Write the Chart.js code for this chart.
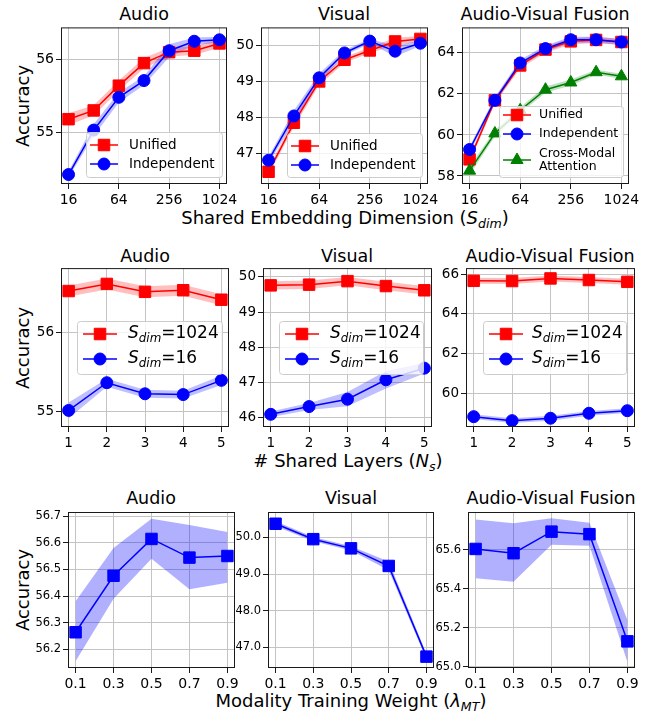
<!DOCTYPE html>
<html>
<head>
<meta charset="utf-8">
<script src="https://cdn.jsdelivr.net/npm/chart.js@4.4.0/dist/chart.umd.min.js"></script>
<style>
  body { margin: 0; background: #fff; }
  #fig { position: relative; width: 653px; height: 715px; font-family: "DejaVu Sans", sans-serif; color: #000; overflow: hidden; }
  #fig canvas { position: absolute; }
  .txt { position: absolute; transform: translate(-50%, -50%); white-space: nowrap; }
  .title { font-size: 17.5px; }
  .xlab { font-size: 18px; }
  .ylab { font-size: 18px; transform: translate(-50%, -50%) rotate(-90deg); }
  .sub { font-size: 70%; font-style: italic; position: relative; top: 0.3em; }
</style>
</head>
<body>
<div id="fig">
  <div class="txt title" style="left:144px;top:14px">Audio</div>
  <div class="txt title" style="left:344px;top:14px">Visual</div>
  <div class="txt title" style="left:545px;top:14px">Audio-Visual Fusion</div>
  <div class="txt title" style="left:145px;top:256px">Audio</div>
  <div class="txt title" style="left:347px;top:256px">Visual</div>
  <div class="txt title" style="left:550px;top:256px">Audio-Visual Fusion</div>
  <div class="txt title" style="left:151px;top:498px">Audio</div>
  <div class="txt title" style="left:351px;top:498px">Visual</div>
  <div class="txt title" style="left:551px;top:498px">Audio-Visual Fusion</div>

  <div class="txt ylab" style="left:22px;top:106px">Accuracy</div>
  <div class="txt ylab" style="left:22px;top:348px">Accuracy</div>
  <div class="txt ylab" style="left:22px;top:590px">Accuracy</div>

  <div class="txt xlab" style="left:345px;top:217px">Shared Embedding Dimension (<i>S</i><span class="sub">dim</span>)</div>
  <div class="txt xlab" style="left:348px;top:460px"># Shared Layers (<i>N</i><span class="sub">s</span>)</div>
  <div class="txt xlab" style="left:351px;top:700px">Modality Training Weight (<i>λ</i><span class="sub">MT</span>)</div>
</div>
<script>
// --- data ---
const dims = [16, 32, 64, 128, 256, 512, 1024];
const dimTicks = [16, 64, 256, 1024];
const layers = [1, 2, 3, 4, 5];
const weights = [0.1, 0.3, 0.5, 0.7, 0.9];

// row 1: shared embedding dimension
const dimAudioUnified = [55.18, 55.30, 55.64, 55.95, 56.10, 56.12, 56.22];
const dimAudioUnifiedErr = [0.08, 0.07, 0.07, 0.07, 0.06, 0.06, 0.06];
const dimAudioIndep = [54.42, 55.03, 55.48, 55.71, 56.12, 56.25, 56.27];
const dimAudioIndepErr = [0.04, 0.08, 0.07, 0.06, 0.09, 0.05, 0.04];

const dimVisualUnified = [46.49, 47.85, 49.00, 49.60, 49.86, 50.11, 50.18];
const dimVisualUnifiedErr = [0.10, 0.12, 0.10, 0.08, 0.08, 0.10, 0.08];
const dimVisualIndep = [46.81, 48.04, 49.10, 49.79, 50.12, 49.84, 50.06];
const dimVisualIndepErr = [0.10, 0.15, 0.12, 0.08, 0.06, 0.15, 0.08];

const dimAVUnified = [58.81, 61.68, 63.38, 64.15, 64.55, 64.62, 64.52];
const dimAVUnifiedErr = [0.15, 0.15, 0.15, 0.15, 0.15, 0.15, 0.15];
const dimAVIndep = [59.29, 61.68, 63.50, 64.20, 64.63, 64.63, 64.52];
const dimAVIndepErr = [0.15, 0.15, 0.15, 0.15, 0.15, 0.15, 0.15];
const dimAVCross = [58.26, 60.07, 61.20, 62.20, 62.55, 63.05, 62.85];
const dimAVCrossErr = [0.20, 0.15, 0.15, 0.15, 0.15, 0.12, 0.12];

// row 2: shared layers
const layerAudio1024 = [56.53, 56.62, 56.52, 56.54, 56.42];
const layerAudio1024Err = [0.07, 0.07, 0.07, 0.07, 0.07];
const layerAudio16 = [55.02, 55.37, 55.23, 55.22, 55.40];
const layerAudio16Err = [0.10, 0.05, 0.05, 0.05, 0.06];

const layerVisual1024 = [49.76, 49.78, 49.88, 49.74, 49.62];
const layerVisual1024Err = [0.12, 0.12, 0.12, 0.12, 0.12];
const layerVisual16 = [46.10, 46.32, 46.53, 47.08, 47.41];
const layerVisual16Err = [0.08, 0.10, 0.20, 0.25, 0.15];

const layerAV1024 = [65.66, 65.65, 65.78, 65.70, 65.61];
const layerAV1024Err = [0.15, 0.15, 0.15, 0.15, 0.15];
const layerAV16 = [58.83, 58.63, 58.75, 59.00, 59.13];
const layerAV16Err = [0.12, 0.12, 0.12, 0.12, 0.12];

// row 3: modality training weight
const weightAudio = [56.264, 56.476, 56.614, 56.544, 56.550];
const weightAudioHigh = [56.380, 56.580, 56.690, 56.666, 56.640];
const weightAudioLow = [56.155, 56.390, 56.540, 56.425, 56.450];

const weightVisual = [50.37, 49.95, 49.70, 49.22, 46.75];
const weightVisualHigh = [50.44, 50.01, 49.76, 49.34, 46.83];
const weightVisualLow = [50.30, 49.89, 49.64, 49.10, 46.67];

const weightAV = [65.605, 65.583, 65.694, 65.681, 65.130];
const weightAVHigh = [65.757, 65.737, 65.763, 65.740, 65.240];
const weightAVLow = [65.454, 65.437, 65.626, 65.622, 65.024];

// tick labels
const yTicksDimAudio = [55, 56];
const yTicksDimVisual = [47, 48, 49, 50];
const yTicksDimAV = [58, 60, 62, 64];
const yTicksLayerAudio = [55, 56];
const yTicksLayerVisual = [46, 47, 48, 49, 50];
const yTicksLayerAV = [60, 62, 64, 66];
const yTicksWeightAudio = [56.2, 56.3, 56.4, 56.5, 56.6, 56.7];
const yTicksWeightVisual = [47, 48, 49, 50];
const yTicksWeightAV = [65.0, 65.2, 65.4, 65.6];

// --- drawing ---
const fig = document.getElementById('fig');
const FONT = '"DejaVu Sans", sans-serif';
const RED = '#ff0000', BLUE = '#0000ff', GREEN = '#008000';
const RED_BAND = 'rgba(255,0,0,0.25)', BLUE_BAND = 'rgba(0,0,255,0.25)', GREEN_BAND = 'rgba(0,128,0,0.25)';
const BLUE_BAND3 = 'rgba(0,0,255,0.31)';
const PAD_L = 46, PAD_T = 10, PAD_R = 22, PAD_B = 26;

function pts(xs, ys) { return xs.map((x, i) => ({ x: x, y: ys[i] })); }
function plusErr(ys, err) { return ys.map((v, i) => v + err[i]); }
function minusErr(ys, err) { return ys.map((v, i) => v - err[i]); }

function lineSet(xs, ys, color, style, order) {
    const r = style === 'rect' ? 8.1 : (style === 'triangle' ? 7 : 6);
    return {
        data: pts(xs, ys), borderColor: color, backgroundColor: color, borderWidth: 1.5,
        pointStyle: style, pointRadius: r, pointHoverRadius: r, pointBorderWidth: 1,
        pointBorderColor: color, pointBackgroundColor: color, fill: false, order: order, tension: 0
    };
}

function bandSets(xs, hi, lo, color, order) {
    return [
        { data: pts(xs, hi), borderWidth: 0, borderColor: 'transparent', pointRadius: 0, pointHoverRadius: 0,
          backgroundColor: color, fill: '+1', order: order, tension: 0 },
        { data: pts(xs, lo), borderWidth: 0, borderColor: 'transparent', pointRadius: 0, pointHoverRadius: 0,
          backgroundColor: color, fill: false, order: order + 1, tension: 0 }
    ];
}

function drawMarker(ctx, style, x, y, color) {
    ctx.fillStyle = color; ctx.strokeStyle = color; ctx.lineWidth = 1;
    ctx.beginPath();
    if (style === 'rect') {
        const s = 5.75;
        ctx.rect(x - s, y - s, 2 * s, 2 * s);
    } else if (style === 'circle') {
        ctx.arc(x, y, 6, 0, Math.PI * 2);
    } else {
        const r = 7;
        ctx.moveTo(x, y - r); ctx.lineTo(x + r * 0.866, y + r / 2); ctx.lineTo(x - r * 0.866, y + r / 2);
        ctx.closePath();
    }
    ctx.fill(); ctx.stroke();
}

function drawLegend(ctx, L, ox, oy) {
    const x = L.box[0] - ox, y = L.box[1] - oy, w = L.box[2], h = L.box[3];
    ctx.beginPath();
    ctx.roundRect(x + 0.5, y + 0.5, w, h, 3);
    ctx.fillStyle = 'rgba(255,255,255,0.8)'; ctx.fill();
    ctx.strokeStyle = '#cccccc'; ctx.lineWidth = 1; ctx.stroke();
    L.items.forEach(it => {
        const cy = y + it.dy;
        const x0 = x + L.lineX, x1 = x0 + L.lineLen;
        ctx.strokeStyle = it.color; ctx.lineWidth = 1.5;
        ctx.beginPath(); ctx.moveTo(x0, cy); ctx.lineTo(x1, cy); ctx.stroke();
        drawMarker(ctx, it.style, (x0 + x1) / 2, cy, it.color);
        ctx.fillStyle = '#000'; ctx.textBaseline = 'middle'; ctx.textAlign = 'left';
        it.lines.forEach((segs, k) => {
            const ty = cy + (k - (it.lines.length - 1) / 2) * L.lineGap;
            let tx = x + L.textX;
            (typeof segs === 'string' ? [{ t: segs }] : segs).forEach(s => {
                const size = s.sub ? L.fs * 0.7 : L.fs;
                ctx.font = (s.it ? 'italic ' : '') + size + 'px ' + FONT;
                ctx.fillText(s.t, tx, ty + (s.sub ? L.fs * 0.28 : 0));
                tx += ctx.measureText(s.t).width;
            });
        });
    });
}

function framePlugin(legend, ox, oy) {
    return {
        id: 'frameLegend',
        afterDatasetsDraw(chart) {
            const ctx = chart.ctx, a = chart.chartArea;
            ctx.save();
            ctx.strokeStyle = '#1a1a1a'; ctx.lineWidth = 1;
            ctx.strokeRect(a.left + 0.5, a.top + 0.5, a.right - a.left - 1, a.bottom - a.top - 1);
            if (legend) drawLegend(ctx, legend, ox, oy);
            ctx.restore();
        }
    };
}

function axis(type, min, max, ticks, fontSize, fmt, horizontal) {
    return {
        type: type, min: min, max: max, bounds: 'data',
        afterBuildTicks: s => { s.ticks = ticks.map(v => ({ value: v })); },
        afterFit: s => { if (horizontal) s.height = PAD_B; else s.width = PAD_L; },
        ticks: { font: { family: FONT, size: fontSize }, color: '#000', padding: horizontal ? 3 : 2,
                 autoSkip: false, maxRotation: 0, minRotation: 0, callback: v => fmt(v) },
        grid: { color: '#c4c4c4', lineWidth: 1, tickColor: '#1a1a1a', tickLength: 5 },
        border: { display: false }
    };
}

function makeChart(rect, cfg) {
    const [L, T, R, B] = rect;
    const w = R - L + PAD_L + PAD_R, h = B - T + PAD_T + PAD_B;
    const ox = L - PAD_L, oy = T - PAD_T;
    const canvas = document.createElement('canvas');
    canvas.width = w; canvas.height = h;
    canvas.style.left = ox + 'px'; canvas.style.top = oy + 'px';
    canvas.style.width = w + 'px'; canvas.style.height = h + 'px';
    fig.appendChild(canvas);
    new Chart(canvas, {
        type: 'line',
        data: { datasets: cfg.datasets },
        options: {
            responsive: false, animation: false, devicePixelRatio: 1,
            layout: { padding: { left: 0, top: PAD_T, right: PAD_R, bottom: 0 } },
            plugins: { legend: { display: false }, tooltip: { enabled: false } },
            scales: {
                x: axis(cfg.xType || 'linear', cfg.xMin, cfg.xMax, cfg.xTicks, cfg.xFont, cfg.xFmt, true),
                y: axis('linear', cfg.yMin, cfg.yMax, cfg.yTicks, cfg.yFont, cfg.yFmt, false)
            }
        },
        plugins: [framePlugin(cfg.legend, ox, oy)]
    });
}

const intFmt = v => String(v);
const oneDec = v => Number(v).toFixed(1);

const legendUI = (box, fs, textX) => ({
    box: box, fs: fs, lineX: 4, lineLen: 28, textX: textX, lineGap: 13,
    items: [
        { dy: 13, color: RED, style: 'rect', lines: ['Unified'] },
        { dy: 32, color: BLUE, style: 'circle', lines: ['Independent'] }
    ]
});
const sdim = n => [{ t: 'S', it: true }, { t: 'dim', it: true, sub: true }, { t: '=' + n }];
const legendS = (box, textX) => ({
    box: box, fs: 17, lineX: 6, lineLen: 34, textX: textX, lineGap: 13,
    items: [
        { dy: 13, color: RED, style: 'rect', lines: [sdim(1024)] },
        { dy: 38, color: BLUE, style: 'circle', lines: [sdim(16)] }
    ]
});

// row 1
makeChart([61, 27, 227, 184], {
    xType: 'logarithmic', xMin: 13, xMax: 1261, xTicks: dimTicks, xFont: 14, xFmt: intFmt,
    yMin: 54.29, yMax: 56.44, yTicks: yTicksDimAudio, yFont: 14, yFmt: intFmt,
    datasets: [
        ...bandSets(dims, plusErr(dimAudioUnified, dimAudioUnifiedErr), minusErr(dimAudioUnified, dimAudioUnifiedErr), RED_BAND, 20),
        ...bandSets(dims, plusErr(dimAudioIndep, dimAudioIndepErr), minusErr(dimAudioIndep, dimAudioIndepErr), BLUE_BAND, 10),
        lineSet(dims, dimAudioUnified, RED, 'rect', 2),
        lineSet(dims, dimAudioIndep, BLUE, 'circle', 1)
    ],
    legend: legendUI([86, 132, 136, 45], 13.5, 43)
});
makeChart([261, 27, 428, 184], {
    xType: 'logarithmic', xMin: 13, xMax: 1261, xTicks: dimTicks, xFont: 14, xFmt: intFmt,
    yMin: 46.15, yMax: 50.5, yTicks: yTicksDimVisual, yFont: 14, yFmt: intFmt,
    datasets: [
        ...bandSets(dims, plusErr(dimVisualUnified, dimVisualUnifiedErr), minusErr(dimVisualUnified, dimVisualUnifiedErr), RED_BAND, 20),
        ...bandSets(dims, plusErr(dimVisualIndep, dimVisualIndepErr), minusErr(dimVisualIndep, dimVisualIndepErr), BLUE_BAND, 10),
        lineSet(dims, dimVisualUnified, RED, 'rect', 2),
        lineSet(dims, dimVisualIndep, BLUE, 'circle', 1)
    ],
    legend: legendUI([287, 133, 135, 44], 13.5, 43)
});
makeChart([462, 27, 629, 184], {
    xType: 'logarithmic', xMin: 13, xMax: 1261, xTicks: dimTicks, xFont: 14, xFmt: intFmt,
    yMin: 57.61, yMax: 65.23, yTicks: yTicksDimAV, yFont: 14, yFmt: intFmt,
    datasets: [
        ...bandSets(dims, plusErr(dimAVUnified, dimAVUnifiedErr), minusErr(dimAVUnified, dimAVUnifiedErr), RED_BAND, 30),
        ...bandSets(dims, plusErr(dimAVIndep, dimAVIndepErr), minusErr(dimAVIndep, dimAVIndepErr), BLUE_BAND, 20),
        ...bandSets(dims, plusErr(dimAVCross, dimAVCrossErr), minusErr(dimAVCross, dimAVCrossErr), GREEN_BAND, 10),
        lineSet(dims, dimAVUnified, RED, 'rect', 3),
        lineSet(dims, dimAVIndep, BLUE, 'circle', 2),
        lineSet(dims, dimAVCross, GREEN, 'triangle', 1)
    ],
    legend: {
        box: [499, 106, 124, 71], fs: 12.5, lineX: 4, lineLen: 28, textX: 40, lineGap: 13,
        items: [
            { dy: 9, color: RED, style: 'rect', lines: ['Unified'] },
            { dy: 28, color: BLUE, style: 'circle', lines: ['Independent'] },
            { dy: 54, color: GREEN, style: 'triangle', lines: ['Cross-Modal', 'Attention'] }
        ]
    }
});

// row 2
makeChart([61, 268, 229, 427], {
    xMin: 0.8, xMax: 5.2, xTicks: layers, xFont: 13.5, xFmt: intFmt,
    yMin: 54.81, yMax: 56.82, yTicks: yTicksLayerAudio, yFont: 13.5, yFmt: intFmt,
    datasets: [
        ...bandSets(layers, plusErr(layerAudio1024, layerAudio1024Err), minusErr(layerAudio1024, layerAudio1024Err), RED_BAND, 20),
        ...bandSets(layers, plusErr(layerAudio16, layerAudio16Err), minusErr(layerAudio16, layerAudio16Err), BLUE_BAND, 10),
        lineSet(layers, layerAudio1024, RED, 'rect', 2),
        lineSet(layers, layerAudio16, BLUE, 'circle', 1)
    ],
    legend: legendS([77, 321, 145, 53], 51)
});
makeChart([263, 268, 432, 427], {
    xMin: 0.8, xMax: 5.2, xTicks: layers, xFont: 13.5, xFmt: intFmt,
    yMin: 45.74, yMax: 50.25, yTicks: yTicksLayerVisual, yFont: 13.5, yFmt: intFmt,
    datasets: [
        ...bandSets(layers, plusErr(layerVisual1024, layerVisual1024Err), minusErr(layerVisual1024, layerVisual1024Err), RED_BAND, 20),
        ...bandSets(layers, plusErr(layerVisual16, layerVisual16Err), minusErr(layerVisual16, layerVisual16Err), BLUE_BAND, 10),
        lineSet(layers, layerVisual1024, RED, 'rect', 2),
        lineSet(layers, layerVisual16, BLUE, 'circle', 1)
    ],
    legend: legendS([279, 321, 144, 53], 51)
});
makeChart([466, 268, 635, 427], {
    xMin: 0.8, xMax: 5.2, xTicks: layers, xFont: 13.5, xFmt: intFmt,
    yMin: 58.31, yMax: 66.3, yTicks: yTicksLayerAV, yFont: 13.5, yFmt: intFmt,
    datasets: [
        ...bandSets(layers, plusErr(layerAV1024, layerAV1024Err), minusErr(layerAV1024, layerAV1024Err), RED_BAND, 20),
        ...bandSets(layers, plusErr(layerAV16, layerAV16Err), minusErr(layerAV16, layerAV16Err), BLUE_BAND, 10),
        lineSet(layers, layerAV1024, RED, 'rect', 2),
        lineSet(layers, layerAV16, BLUE, 'circle', 1)
    ],
    legend: legendS([483, 321, 143, 53], 49)
});

// row 3
makeChart([68, 512, 235, 668], {
    xMin: 0.06, xMax: 0.94, xTicks: weights, xFont: 14, xFmt: oneDec,
    yMin: 56.13, yMax: 56.715, yTicks: yTicksWeightAudio, yFont: 11.5, yFmt: oneDec,
    datasets: [
        ...bandSets(weights, weightAudioHigh, weightAudioLow, BLUE_BAND3, 10),
        lineSet(weights, weightAudio, BLUE, 'rect', 1)
    ]
});
makeChart([268, 512, 434, 668], {
    xMin: 0.06, xMax: 0.94, xTicks: weights, xFont: 14, xFmt: oneDec,
    yMin: 46.44, yMax: 50.69, yTicks: yTicksWeightVisual, yFont: 11.5, yFmt: oneDec,
    datasets: [
        ...bandSets(weights, weightVisualHigh, weightVisualLow, BLUE_BAND3, 10),
        lineSet(weights, weightVisual, BLUE, 'rect', 1)
    ]
});
makeChart([468, 512, 635, 668], {
    xMin: 0.06, xMax: 0.94, xTicks: weights, xFont: 14, xFmt: oneDec,
    yMin: 64.993, yMax: 65.795, yTicks: yTicksWeightAV, yFont: 11.5, yFmt: oneDec,
    datasets: [
        ...bandSets(weights, weightAVHigh, weightAVLow, BLUE_BAND3, 10),
        lineSet(weights, weightAV, BLUE, 'rect', 1)
    ]
});
</script>
</body>
</html>
